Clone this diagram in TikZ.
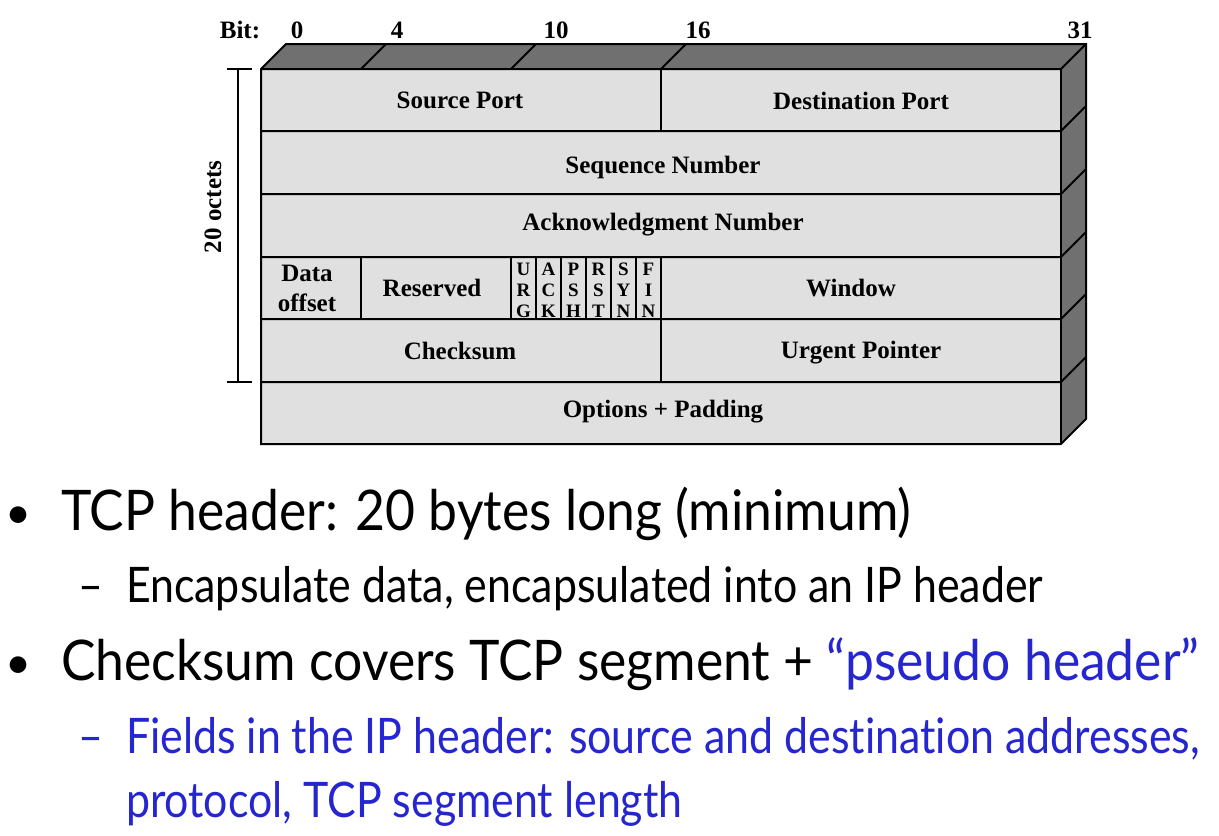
\documentclass[tikz,border=0pt]{standalone}
\usepackage{fontspec}
\setmainfont{Liberation Serif}
\newfontfamily\slidefont[Ligatures = NoCommon]{Lato}

\definecolor{facegray}{RGB}{224,224,224}
\definecolor{sidegray}{RGB}{112,112,112}
\definecolor{slideblue}{RGB}{38,38,208}

\newcommand{\mainline}[1]{\scalebox{0.922}[1]{#1}}
\newcommand{\subline}[1]{\scalebox{0.875}[1]{#1}}

\tikzstyle{field} = [font = \fontsize{12.5}{15}\selectfont\bfseries, align = center, inner sep = 0pt]
\tikzstyle{flag} = [font = \fontsize{9.5}{10.5}\selectfont\bfseries, align = center, inner sep = 0pt]
\tikzstyle{bitnum} = [font = \fontsize{12.5}{15}\selectfont\bfseries, anchor = base, inner sep = 0pt]
\tikzstyle{bullet} = [font = \slidefont\fontsize{28}{34}\selectfont, anchor = base west, inner sep = 0pt]
\tikzstyle{subbullet} = [font = \slidefont\fontsize{24.5}{30}\selectfont, anchor = base west, inner sep = 0pt]

\begin{document}
\begin{tikzpicture}[x = 0.5pt, y = -0.5pt, line width = 1pt]
  \useasboundingbox (0, 0) rectangle (1219, 835);

  % Box faces
  \fill[sidegray] (261, 69) -- (286, 44) -- (1086, 44) -- (1061, 69) -- cycle;
  \fill[sidegray] (1061, 69) -- (1086, 44) -- (1086, 419) -- (1061, 444) -- cycle;
  \fill[facegray] (261, 69) rectangle (1061, 444);
  \draw (261, 69) -- (286, 44) -- (1086, 44) -- (1086, 419) -- (1061, 444)
        -- (261, 444) -- cycle;
  \draw (261, 69) -- (1061, 69) -- (1086, 44);
  \draw (1061, 69) -- (1061, 444);

  % Bit marks on the top face
  \foreach \x in {361, 511, 661}
  {
    \draw (\x, 69) -- (\x + 25, 44);
  }
  % Rows
  \foreach \y in {131, 194, 257, 319, 382}
  {
    \draw (261, \y) -- (1061, \y) -- (1086, \y - 25);
  }
  \draw (661, 69) -- (661, 131);
  \draw (361, 257) -- (361, 319);
  \foreach \x in {511, 536, ..., 661}
  {
    \draw (\x, 257) -- (\x, 319);
  }
  \draw (661, 319) -- (661, 382);

  % Bit numbers
  \node[bitnum] (bit)   at (240, 38) {Bit:};
  \node[bitnum] (bit0)  at (297, 38) {0};
  \node[bitnum] (bit4)  at (397, 38) {4};
  \node[bitnum] (bit10) at (556, 38) {10};
  \node[bitnum] (bit16) at (698, 38) {16};
  \node[bitnum] (bit31) at (1080, 38) {31};

  % 20 octets
  \draw (227, 69) -- (252, 69);
  \draw (238, 69) -- (238, 382);
  \draw (227, 382) -- (252, 382);
  \node[field, rotate = 90] (octets) at (213, 207) {20 octets};

  % Fields
  \node[field] (srcport) at (460, 100) {Source Port};
  \node[field] (dstport) at (861, 101) {Destination Port};
  \node[field] (seqnum)  at (663, 167) {Sequence Number};
  \node[field] (acknum)  at (663, 225) {Acknowledgment Number};
  \node[field] (offset)  at (307, 288) {Data\\offset};
  \node[field] (reserved) at (432, 288) {Reserved};
  \foreach \a/\b/\c [count = \i from 0] in {U/R/G, A/C/K, P/S/H, R/S/T, S/Y/N, F/I/N}
  {
    \node[flag] (flag\i) at ({523.5 + 25 * \i}, 290) {\a\\\b\\\c};
  }
  \node[field] (window)   at (851, 288) {Window};
  \node[field] (checksum) at (460, 351) {Checksum};
  \node[field] (urgent)   at (861, 353) {Urgent Pointer};
  \node[field] (options)  at (663, 412) {Options + Padding};

  % Bullets
  \node[bullet, anchor = base] (dot1) at (18, 528) {\scalebox{0.8}{•}};
  \node[bullet] (line1) at (60, 530) {\mainline{TCP header: 20 bytes long (minimum)}};
  \node[subbullet] (dash1) at (77, 602) {\subline{–}};
  \node[subbullet] (line2) at (125, 602) {\subline{Encapsulate data, encapsulated into an IP header}};
  \node[bullet, anchor = base] (dot2) at (18, 678) {\scalebox{0.8}{•}};
  \node[bullet] (line3) at (60, 680) {\mainline{Checksum covers TCP segment + \textcolor{slideblue}{“pseudo header”}}};
  \node[subbullet, slideblue] (dash2) at (77, 753) {\subline{–}};
  \node[subbullet, slideblue] (line4) at (125, 753) {\subline{Fields in the IP header: source and destination addresses,}};
  \node[subbullet, slideblue] (line5) at (125, 817) {\subline{protocol, TCP segment length}};
\end{tikzpicture}
\end{document}
